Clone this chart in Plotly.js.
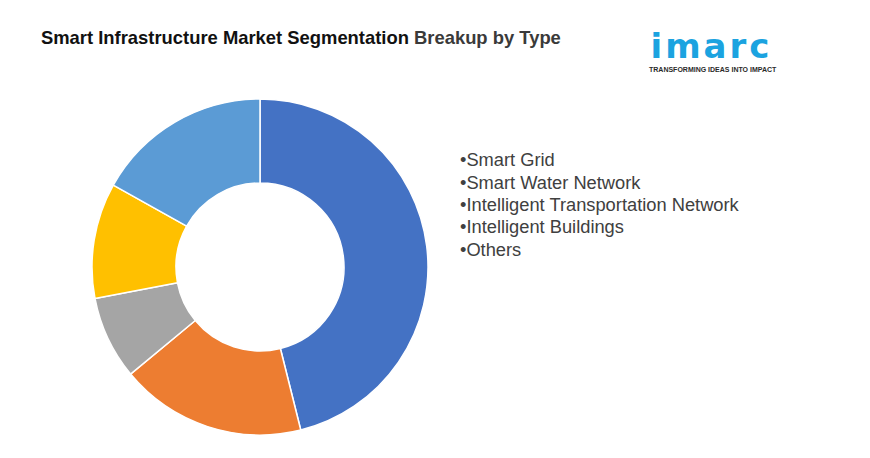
<!DOCTYPE html>
<html>
<head>
<meta charset="utf-8">
<script src="https://cdn.plot.ly/plotly-3.0.1.min.js"></script>
<style>
html,body{margin:0;padding:0;background:#fff;}
#chart{width:870px;height:458px;}
g.annotation[data-index="1"] text{letter-spacing:3px;}
</style>
</head>
<body>
<div id="chart"></div>
<script>
const categories = ["Smart Grid", "Smart Water Network", "Intelligent Transportation Network", "Intelligent Buildings", "Others"];
const shares = [46.1, 17.9, 8.0, 11.1, 16.9];
const colors = ["#4472C4", "#ED7D31", "#A5A5A5", "#FFC000", "#5B9BD5"];
const titleMain = "Smart Infrastructure Market Segmentation";
const titleRest = "Breakup by Type";
const logoText = "imarc";
const taglineText = "TRANSFORMING IDEAS INTO IMPACT";

const W = 870, H = 458;
const cx = 260, cy = 267, R = 168;

const trace = {
  type: "pie",
  labels: categories,
  values: shares,
  sort: false,
  direction: "clockwise",
  rotation: 0,
  hole: 0.5,
  textinfo: "none",
  hoverinfo: "label+percent",
  marker: {colors: colors, line: {color: "#ffffff", width: 1.5}},
  domain: {x: [(cx - R) / W, (cx + R) / W], y: [(H - cy - R) / H, (H - cy + R) / H]},
  showlegend: false
};

const annotations = [];
annotations.push({
  xref: "paper", yref: "paper", x: 39 / W, y: 1 - 38 / H,
  xanchor: "left", yanchor: "middle", showarrow: false,
  text: "<b>" + titleMain + " <span style='color:#3a3a3a'>" + titleRest + "</span></b>",
  font: {family: "Liberation Sans, Arial, sans-serif", size: 18.4, color: "#111111"}
});
annotations.push({
  xref: "paper", yref: "paper", x: 656 / W, y: 1 - 46 / H,
  xanchor: "left", yanchor: "middle", showarrow: false,
  text: "<b>" + logoText + "</b>",
  font: {family: "DejaVu Sans, sans-serif", size: 34, color: "#1BA3E0"}
});
annotations.push({
  xref: "paper", yref: "paper", x: 713 / W, y: 1 - 69.5 / H,
  xanchor: "center", yanchor: "middle", showarrow: false,
  text: "<b>" + taglineText + "</b>",
  font: {family: "Liberation Sans, Arial, sans-serif", size: 7, color: "#2a2a2a"}
});
categories.forEach((c, i) => {
  annotations.push({
    xref: "paper", yref: "paper", x: 458 / W, y: 1 - (160 + i * 22.3) / H,
    xanchor: "left", yanchor: "middle", showarrow: false,
    text: "\u2022" + c,
    font: {family: "Liberation Sans, Arial, sans-serif", size: 18.3, color: "#404040"}
  });
});

const layout = {
  width: W, height: H,
  margin: {l: 0, r: 0, t: 0, b: 0},
  paper_bgcolor: "#ffffff",
  plot_bgcolor: "#ffffff",
  annotations: annotations
};

Plotly.newPlot("chart", [trace], layout, {displayModeBar: false, staticPlot: true});
</script>
</body>
</html>
